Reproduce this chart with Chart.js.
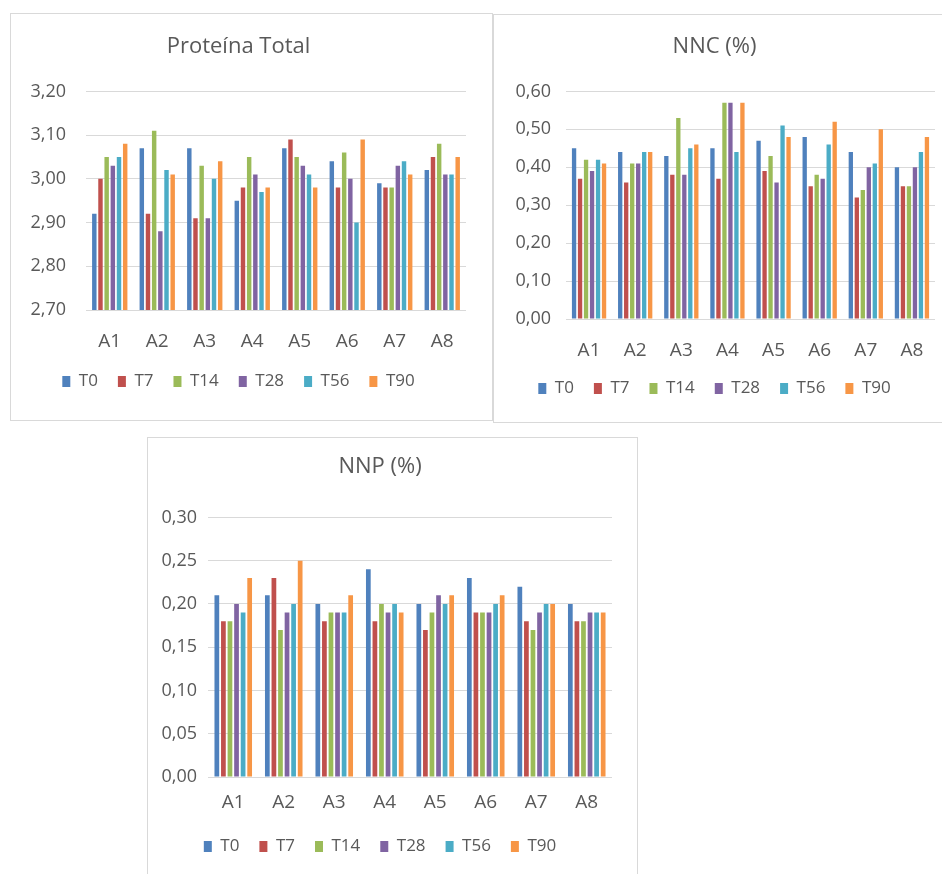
<!DOCTYPE html>
<html>
<head>
<meta charset="utf-8">
<script src="https://cdn.jsdelivr.net/npm/chart.js@4.4.1/dist/chart.umd.min.js"></script>
<style>
  html, body { margin: 0; padding: 0; background: #fff; }
  body { width: 942px; height: 874px; position: relative; overflow: hidden; }
  .panel { position: absolute; border: 1px solid #d9d9d9; background: #fff; box-sizing: border-box; }
  .panel canvas { display: block; }
</style>
</head>
<body>
<div class="panel" id="p1" style="left:10px;top:13px;width:483px;height:408px"><canvas id="c1"></canvas></div>
<div class="panel" id="p2" style="left:493px;top:14px;width:452px;height:409px"><canvas id="c2"></canvas></div>
<div class="panel" id="p3" style="left:147px;top:437px;width:491px;height:440px"><canvas id="c3"></canvas></div>
<script>
// sample groups and sampling times
const categories = ['A1', 'A2', 'A3', 'A4', 'A5', 'A6', 'A7', 'A8']
const seriesNames = ['T0', 'T7', 'T14', 'T28', 'T56', 'T90']
const seriesColors = ['#4F81BD', '#C0504D', '#9BBB59', '#8064A2', '#4BACC6', '#F79646']

// Proteína Total, one array per time point (A1..A8)
const protT0  = [2.92, 3.07, 3.07, 2.95, 3.07, 3.04, 2.99, 3.02]
const protT7  = [3.00, 2.92, 2.91, 2.98, 3.09, 2.98, 2.98, 3.05]
const protT14 = [3.05, 3.11, 3.03, 3.05, 3.05, 3.06, 2.98, 3.08]
const protT28 = [3.03, 2.88, 2.91, 3.01, 3.03, 3.00, 3.03, 3.01]
const protT56 = [3.05, 3.02, 3.00, 2.97, 3.01, 2.90, 3.04, 3.01]
const protT90 = [3.08, 3.01, 3.04, 2.98, 2.98, 3.09, 3.01, 3.05]

// NNC (%)
const nncT0  = [0.45, 0.44, 0.43, 0.45, 0.47, 0.48, 0.44, 0.40]
const nncT7  = [0.37, 0.36, 0.38, 0.37, 0.39, 0.35, 0.32, 0.35]
const nncT14 = [0.42, 0.41, 0.53, 0.57, 0.43, 0.38, 0.34, 0.35]
const nncT28 = [0.39, 0.41, 0.38, 0.57, 0.36, 0.37, 0.40, 0.40]
const nncT56 = [0.42, 0.44, 0.45, 0.44, 0.51, 0.46, 0.41, 0.44]
const nncT90 = [0.41, 0.44, 0.46, 0.57, 0.48, 0.52, 0.50, 0.48]

// NNP (%)
const nnpT0  = [0.21, 0.21, 0.20, 0.24, 0.20, 0.23, 0.22, 0.20]
const nnpT7  = [0.18, 0.23, 0.18, 0.18, 0.17, 0.19, 0.18, 0.18]
const nnpT14 = [0.18, 0.17, 0.19, 0.20, 0.19, 0.19, 0.17, 0.18]
const nnpT28 = [0.20, 0.19, 0.19, 0.19, 0.21, 0.19, 0.19, 0.19]
const nnpT56 = [0.19, 0.20, 0.19, 0.20, 0.20, 0.20, 0.20, 0.19]
const nnpT90 = [0.23, 0.25, 0.21, 0.19, 0.21, 0.21, 0.20, 0.19]

const FONT = "'Open Sans', 'Liberation Sans', sans-serif"
const TEXT = '#595959'

// comma decimals, two places
const fmt = v => Number(v).toFixed(2).replace('.', ',')

function buildDatasets(seriesData) {
  return seriesData.map((data, i) => ({
    label: seriesNames[i],
    data,
    backgroundColor: seriesColors[i],
    borderWidth: 0,
    barPercentage: 0.72,
    categoryPercentage: 0.78
  }))
}

function renderChart(canvasId, cfg) {
  const canvas = document.getElementById(canvasId)
  const box = canvas.parentElement
  canvas.width = box.clientWidth
  canvas.height = box.clientHeight
  return new Chart(canvas, {
    type: 'bar',
    data: { labels: categories, datasets: buildDatasets(cfg.series) },
    options: {
      responsive: false,
      animation: false,
      devicePixelRatio: 1,
      layout: { padding: { left: 0, right: cfg.padRight, top: 0, bottom: cfg.padBottom } },
      plugins: {
        title: {
          display: true,
          text: cfg.title,
          color: TEXT,
          font: { family: FONT, size: 22, weight: 'normal', lineHeight: 1.2 },
          padding: { top: cfg.titleTop, bottom: cfg.titleBottom }
        },
        legend: {
          position: 'bottom',
          labels: {
            color: TEXT,
            font: { family: FONT, size: 17 },
            boxWidth: 8,
            boxHeight: 11,
            padding: 20
          }
        },
        tooltip: { enabled: false }
      },
      scales: {
        x: {
          grid: { display: false, drawTicks: false },
          border: { display: false },
          ticks: { color: TEXT, font: { family: FONT, size: 19 }, padding: cfg.xPad },
          afterFit: s => { s.height = cfg.xHeight }
        },
        y: {
          min: cfg.min,
          max: cfg.max,
          ticks: {
            stepSize: cfg.step,
            color: TEXT,
            font: { family: FONT, size: 18 },
            padding: cfg.yPad,
            callback: v => fmt(v)
          },
          grid: { color: '#d9d9d9', lineWidth: 1, drawTicks: false },
          border: { display: false },
          afterFit: s => { s.width = cfg.yWidth }
        }
      }
    }
  })
}

renderChart('c1', {
  title: 'Proteína Total',
  series: [protT0, protT7, protT14, protT28, protT56, protT90],
  min: 2.7, max: 3.2, step: 0.1,
  yWidth: 75, yPad: 20, xHeight: 43, xPad: 20,
  padRight: 26, padBottom: 20, titleTop: 20, titleBottom: 31
})

renderChart('c2', {
  title: 'NNC (%)',
  series: [nncT0, nncT7, nncT14, nncT28, nncT56, nncT90],
  min: 0, max: 0.6, step: 0.1,
  yWidth: 72, yPad: 15, xHeight: 41, xPad: 20,
  padRight: 9, padBottom: 15, titleTop: 19, titleBottom: 31
})

renderChart('c3', {
  title: 'NNP (%)',
  series: [nnpT0, nnpT7, nnpT14, nnpT28, nnpT56, nnpT90],
  min: 0, max: 0.3, step: 0.05,
  yWidth: 60, yPad: 11, xHeight: 41, xPad: 14,
  padRight: 25, padBottom: 11, titleTop: 16, titleBottom: 37
})
</script>
</body>
</html>
